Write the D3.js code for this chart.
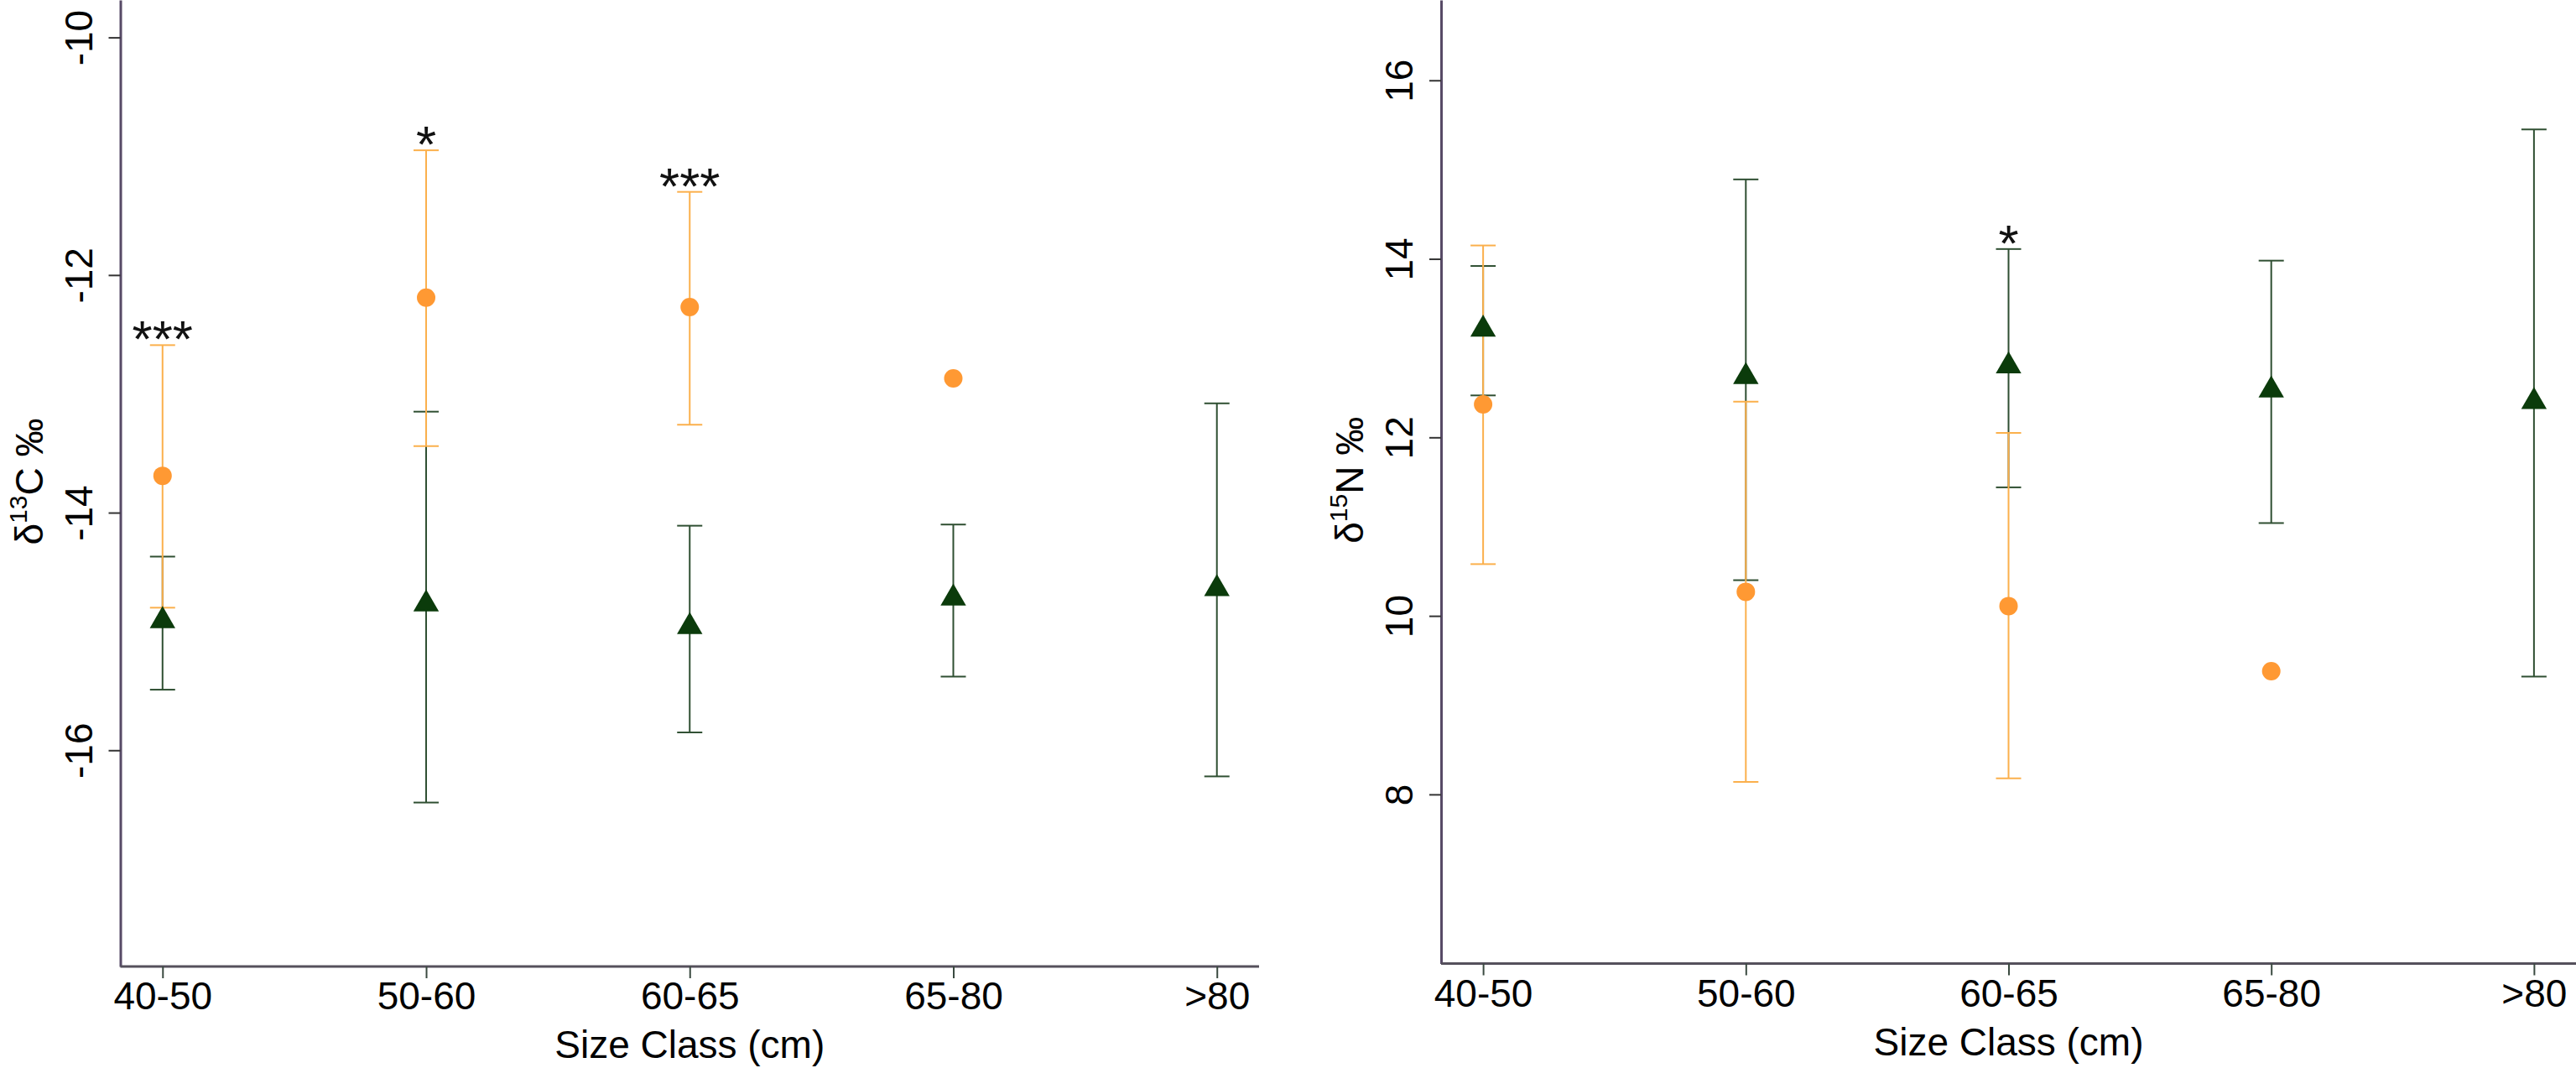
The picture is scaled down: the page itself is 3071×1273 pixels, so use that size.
<!DOCTYPE html>
<html>
<head>
<meta charset="utf-8">
<script src="https://cdn.jsdelivr.net/npm/d3@7"></script>
<style>
  body { margin: 0; background: #fff; }
  svg { display: block; font-family: Arial, "Liberation Sans", sans-serif; }
</style>
</head>
<body>
<svg id="chart" width="3071" height="1273"></svg>
<script>
var categories = ["40-50", "50-60", "60-65", "65-80", ">80"];

// delta 13C panel
var c13OrangeMean = [-13.69, -12.19, -12.27, -12.87, null],
  c13OrangeHi = [-12.59, -10.95, -11.30, null, null],
  c13OrangeLo = [-14.80, -13.44, -13.26, null, null],
  c13GreenMean = [-14.91, -14.77, -14.96, -14.72, -14.64],
  c13GreenHi = [-14.37, -13.15, -14.11, -14.10, -13.08],
  c13GreenLo = [-15.49, -16.44, -15.85, -15.38, -16.22],
  c13Stars = ["***", "*", "***", "", ""],
  c13Ticks = [-16, -14, -12, -10],
  c13Domain = [-17.82, -9.685];

// delta 15N panel
var n15OrangeMean = [12.37, 10.27, 10.11, 9.38, null],
  n15OrangeHi = [14.15, 12.40, 12.05, null, null],
  n15OrangeLo = [10.58, 8.14, 8.18, null, null],
  n15GreenMean = [13.21, 12.68, 12.80, 12.53, 12.40],
  n15GreenHi = [13.92, 14.89, 14.11, 13.98, 15.45],
  n15GreenLo = [12.47, 10.40, 11.44, 11.04, 9.32],
  n15Stars = ["", "", "*", "", ""],
  n15Ticks = [8, 10, 12, 14, 16],
  n15Domain = [6.105, 16.90];

var ORANGE = "#ff9933",
  ORANGE_BAR = "#fbb04c",
  GREEN = "#0b3b0b",
  GREEN_BAR = "#2f4f32",
  AXIS = "#574a66",
  FONT = 46;

var svg = d3.select("#chart");

function panel(opt) {
  var g = svg.append("g");

  var x = d3.scalePoint()
    .domain(categories)
    .range([opt.left, opt.right])
    .padding(0.16);

  var y = d3.scaleLinear()
    .domain(opt.domain)
    .range([opt.bottom, 0]);

  // y axis (plain hyphen for negatives, as in the original)
  var yAxis = g.append("g")
    .attr("transform", "translate(" + opt.left + ",0)")
    .call(d3.axisLeft(y).tickValues(opt.ticks).tickSize(14).tickSizeOuter(0)
      .tickFormat(function(d) { return String(d); }));
  yAxis.select(".domain").attr("stroke", AXIS).attr("stroke-width", 3);
  yAxis.selectAll(".tick line").attr("stroke", "#333").attr("stroke-width", 2);
  yAxis.selectAll(".tick text")
    .attr("x", null).attr("dy", null)
    .attr("transform", "translate(-34,0) rotate(-90)")
    .attr("text-anchor", "middle")
    .attr("fill", "#000")
    .style("font-size", FONT + "px")
    .style("font-family", "Arial, 'Liberation Sans', sans-serif");

  // x axis
  var xAxis = g.append("g")
    .attr("transform", "translate(0," + opt.bottom + ")")
    .call(d3.axisBottom(x).tickSize(14).tickSizeOuter(0).tickPadding(18));
  xAxis.select(".domain").attr("stroke", "#55505c").attr("stroke-width", 3)
    .attr("d", "M" + opt.left + ",0H" + opt.right);
  xAxis.selectAll(".tick line").attr("stroke", "#3a4a40").attr("stroke-width", 2);
  xAxis.selectAll(".tick text")
    .attr("dy", null).attr("y", 51)
    .attr("fill", "#000")
    .style("font-size", FONT + "px")
    .style("font-family", "Arial, 'Liberation Sans', sans-serif");

  // axis titles
  g.append("text")
    .attr("x", (opt.left + opt.right) / 2)
    .attr("y", opt.bottom + 109)
    .attr("text-anchor", "middle")
    .style("font-size", FONT + "px")
    .text("Size Class (cm)");

  var yl = g.append("text")
    .attr("transform", "translate(" + (opt.left - 93) + "," + (opt.bottom / 2 - 2) + ") rotate(-90)")
    .attr("text-anchor", "middle")
    .style("font-size", FONT + "px");
  yl.append("tspan").text("\u03b4");
  yl.append("tspan").attr("dy", -19).style("font-size", "30px").text(opt.iso);
  yl.append("tspan").attr("dy", 19).text(opt.el + " \u2030");

  function bars(mean, hi, lo, color) {
    var rows = categories.map(function(c, i) {
      return { c: c, m: mean[i], hi: hi[i], lo: lo[i] };
    }).filter(function(d) { return d.hi != null && d.lo != null; });

    var eb = g.append("g").attr("stroke", color).attr("stroke-width", 2).attr("fill", "none");
    eb.selectAll(".v").data(rows).enter().append("line")
      .attr("x1", function(d) { return x(d.c); })
      .attr("x2", function(d) { return x(d.c); })
      .attr("y1", function(d) { return y(d.hi); })
      .attr("y2", function(d) { return y(d.lo); });
    ["hi", "lo"].forEach(function(k) {
      eb.selectAll(".cap-" + k).data(rows).enter().append("line")
        .attr("x1", function(d) { return x(d.c) - 15; })
        .attr("x2", function(d) { return x(d.c) + 15; })
        .attr("y1", function(d) { return y(d[k]); })
        .attr("y2", function(d) { return y(d[k]); });
    });
  }

  bars(opt.gMean, opt.gHi, opt.gLo, GREEN_BAR);
  bars(opt.oMean, opt.oHi, opt.oLo, ORANGE_BAR);

  var orangePts = categories.map(function(c, i) { return { c: c, v: opt.oMean[i] }; })
    .filter(function(d) { return d.v != null; });
  g.selectAll(".dot").data(orangePts).enter().append("circle")
    .attr("cx", function(d) { return x(d.c); })
    .attr("cy", function(d) { return y(d.v); })
    .attr("r", 11)
    .attr("fill", ORANGE);

  var greenPts = categories.map(function(c, i) { return { c: c, v: opt.gMean[i] }; });
  g.selectAll(".tri").data(greenPts).enter().append("path")
    .attr("d", d3.symbol().type(d3.symbolTriangle).size(400))
    .attr("transform", function(d) { return "translate(" + x(d.c) + "," + y(d.v) + ")"; })
    .attr("fill", GREEN);

  // significance stars above the highest whisker
  var stars = categories.map(function(c, i) {
    var top = d3.max([opt.oHi[i], opt.gHi[i]]);
    return { c: c, s: opt.stars[i], top: top };
  }).filter(function(d) { return d.s; });
  g.selectAll(".star").data(stars).enter().append("text")
    .attr("x", function(d) { return x(d.c); })
    .attr("y", function(d) { return y(d.top) + 14; })
    .attr("text-anchor", "middle")
    .style("font-size", "62px")
    .attr("fill", "#111")
    .text(function(d) { return d.s; });
}

panel({
  left: 143.5, right: 1501, bottom: 1152,
  domain: c13Domain, ticks: c13Ticks, iso: "13", el: "C",
  oMean: c13OrangeMean, oHi: c13OrangeHi, oLo: c13OrangeLo,
  gMean: c13GreenMean, gHi: c13GreenHi, gLo: c13GreenLo,
  stars: c13Stars
});

panel({
  left: 1718, right: 3071, bottom: 1148.5,
  domain: n15Domain, ticks: n15Ticks, iso: "15", el: "N",
  oMean: n15OrangeMean, oHi: n15OrangeHi, oLo: n15OrangeLo,
  gMean: n15GreenMean, gHi: n15GreenHi, gLo: n15GreenLo,
  stars: n15Stars
});
</script>
</body>
</html>
